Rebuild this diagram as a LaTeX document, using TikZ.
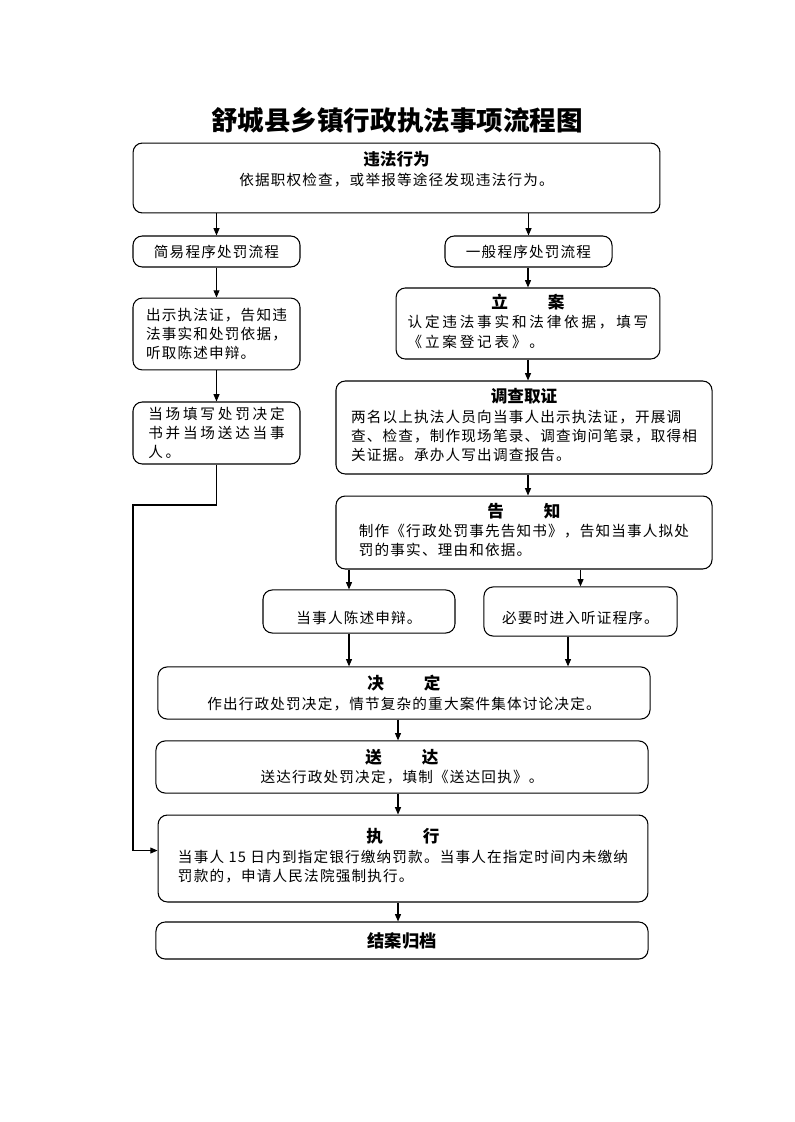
\documentclass[tikz,border=0pt]{standalone}
\usepackage{fontspec}
\usepackage{tikz}
\usetikzlibrary{positioning, arrows.meta}

\newfontfamily\cjk[LetterSpace=8]{Noto Sans CJK SC}
\newfontfamily\cjkwide[LetterSpace=19]{Noto Sans CJK SC}
\newfontfamily\cjkhd{Noto Sans CJK SC}

\newcommand{\hd}[1]{{\cjkhd\bfseries\fontsize{12.5}{15}\selectfont #1}}
\newcommand{\hgap}{\hspace{2.4em}}

\tikzset{
  box/.style={draw, line width=0.8pt, rounded corners=7pt, inner sep=2pt,
    align=center, font=\cjk\fontsize{11}{14.5}\selectfont},
  widebox/.style={box, font=\cjkwide\fontsize{11}{14.5}\selectfont},
  arr/.style={-{Triangle[length=5.5pt,width=4.5pt]}, line width=0.8pt},
}

\begin{document}
\begin{tikzpicture}[x=0.026458cm, y=-0.026458cm]
\useasboundingbox (0,0) rectangle (794,1122);

% Title
\node[font=\cjkhd\bfseries\fontsize{20}{24}\selectfont] (title) at (397,120) {舒城县乡镇行政执法事项流程图};

% Top
\node[box, minimum width=13.94cm, minimum height=1.85cm] (viol) at (396.5,178)
  {\hd{违法行为}\\ 依据职权检查，或举报等途径发现违法行为。\\ \mbox{}};

% Simple procedure (left column)
\node[box, minimum width=4.42cm, minimum height=0.82cm] (simple) at (216.5,251.5) {简易程序处罚流程};
\node[box, align=left, minimum width=4.42cm, minimum height=1.90cm] (show) at (216.5,334)
  {出示执法证，告知违\\法事实和处罚依据，\\听取陈述申辩。};
\node[widebox, align=left, minimum width=4.42cm, minimum height=1.64cm] (spot) at (216.5,433)
  {当场填写处罚决定\\书并当场送达当事\\人。};

% General procedure (right column)
\node[box, minimum width=4.42cm, minimum height=0.82cm] (general) at (528.5,251.5) {一般程序处罚流程};
\node[widebox, minimum width=6.98cm, minimum height=1.88cm] (file) at (528,323.5)
  {\hd{立\hgap 案}\\ \begin{tabular}[t]{@{}l@{}}认定违法事实和法律依据，填写\\《立案登记表》。\end{tabular}};
\node[box, minimum width=9.95cm, minimum height=2.46cm] (inv) at (524,427.5)
  {\hd{调查取证}\\ \begin{tabular}[t]{@{}l@{}}两名以上执法人员向当事人出示执法证，开展调\\查、检查，制作现场笔录、调查询问笔录，取得相\\关证据。承办人写出调查报告。\end{tabular}};
\node[box, minimum width=9.95cm, minimum height=1.93cm] (notice) at (524,532.5)
  {\hd{告\hgap 知}\\ \begin{tabular}[t]{@{}l@{}}制作《行政处罚事先告知书》，告知当事人拟处\\罚的事实、理由和依据。\end{tabular}};
\node[box, text height=19pt, minimum width=5.08cm, minimum height=1.14cm] (plea) at (359,611.5) {当事人陈述申辩。};
\node[box, text height=19pt, minimum width=5.11cm, minimum height=1.30cm] (hear) at (580.5,611.5) {必要时进入听证程序。};

% Common steps
\node[box, minimum width=13.02cm, minimum height=1.38cm] (decide) at (404,693)
  {\hd{决\hgap 定}\\ 作出行政处罚决定，情节复杂的重大案件集体讨论决定。};
\node[box, minimum width=13.02cm, minimum height=1.38cm] (deliver) at (402,767)
  {\hd{送\hgap 达}\\ 送达行政处罚决定，填制《送达回执》。};
\node[box, minimum width=12.96cm, minimum height=2.30cm] (exec) at (403,858.5)
  {\hd{执\hgap 行}\\ \begin{tabular}[t]{@{}l@{}}当事人 15 日内到指定银行缴纳罚款。当事人在指定时间内未缴纳\\罚款的，申请人民法院强制执行。\end{tabular}\\ \mbox{}};
\node[box, minimum width=13.02cm, minimum height=0.98cm] (close) at (402,940.5)
  {\hd{\fontsize{13}{15}\selectfont 结案归档}};

% Helper columns
\coordinate (colA) at (349,0);
\coordinate (colB) at (568,0);
\coordinate (colC) at (398,0);
\coordinate (bend) at (133,505);

% Connectors
\draw[arr] (viol.south -| simple.north) -- (simple.north);
\draw[arr] (viol.south -| general.north) -- (general.north);
\draw[arr] (simple) -- (show);
\draw[arr] (show) -- (spot);
\draw[arr] (spot.south) |- (bend) |- ([yshift=6pt]exec.west);
\draw[arr] (general.south -| file.north) -- (file.north);
\draw[arr] (file.south) -- (file.south |- inv.north);
\draw[arr] (file.south |- inv.south) -- (file.south |- notice.north);
\draw[arr] (notice.south -| colA) -- (plea.north -| colA);
\draw[arr] (notice.south -| hear.north) -- (hear.north);
\draw[arr] (plea.south -| colA) -- (decide.north -| colA);
\draw[arr] (hear.south -| colB) -- (decide.north -| colB);
\draw[arr] (decide.south -| colC) -- (deliver.north -| colC);
\draw[arr] (deliver.south -| colC) -- (exec.north -| colC);
\draw[arr] (exec.south -| colC) -- (close.north -| colC);
\end{tikzpicture}
\end{document}
